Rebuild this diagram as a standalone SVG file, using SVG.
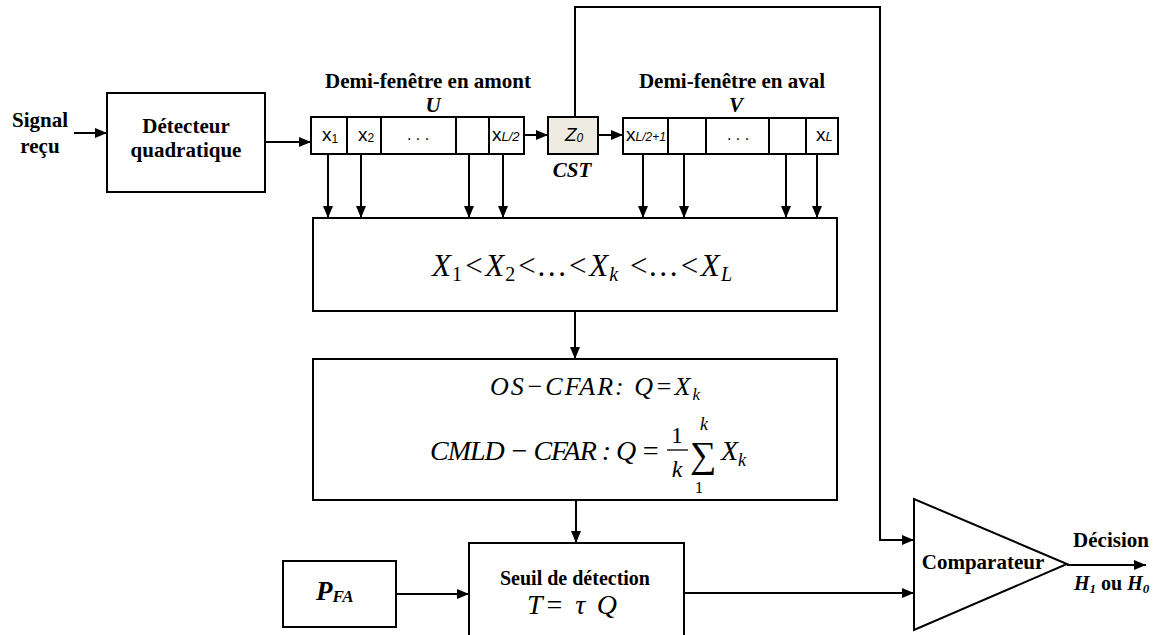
<svg xmlns="http://www.w3.org/2000/svg" width="1166" height="635" viewBox="0 0 1166 635">
<style>
.box{fill:#fff;stroke:#000;stroke-width:2}
.cell{fill:#fff;stroke:#000;stroke-width:2}
.ln{fill:none;stroke:#000;stroke-width:2}
.b{font-family:"Liberation Serif",serif;font-weight:bold;fill:#000}
.bi{font-family:"Liberation Serif",serif;font-weight:bold;font-style:italic;fill:#000}
.m{font-family:"Liberation Serif",serif;font-style:italic;fill:#000}
.r{font-family:"Liberation Serif",serif;fill:#000}
.s{font-family:"Liberation Sans",sans-serif;fill:#000}
</style>
<defs>
<marker id="ah" markerUnits="userSpaceOnUse" markerWidth="12" markerHeight="10" refX="12" refY="5" orient="auto">
<path d="M0,0 L12,5 L0,10 z" fill="#000"/>
</marker>
</defs>

<g id="connectors">
<path class="ln" d="M74,133 H107" marker-end="url(#ah)"/>
<path class="ln" d="M265,142 H311" marker-end="url(#ah)"/>
<path class="ln" d="M524,135 H548" marker-end="url(#ah)"/>
<path class="ln" d="M598,135 H623" marker-end="url(#ah)"/>
<path class="ln" d="M575,117 V7 H880 V540 H914" marker-end="url(#ah)"/>
<path class="ln" d="M328,154 V218" marker-end="url(#ah)"/>
<path class="ln" d="M361,154 V218" marker-end="url(#ah)"/>
<path class="ln" d="M469,154 V218" marker-end="url(#ah)"/>
<path class="ln" d="M503,154 V218" marker-end="url(#ah)"/>
<path class="ln" d="M643,154 V218" marker-end="url(#ah)"/>
<path class="ln" d="M684,154 V218" marker-end="url(#ah)"/>
<path class="ln" d="M786,154 V218" marker-end="url(#ah)"/>
<path class="ln" d="M817,154 V218" marker-end="url(#ah)"/>
<path class="ln" d="M575,311 V359" marker-end="url(#ah)"/>
<path class="ln" d="M576,500 V543" marker-end="url(#ah)"/>
<path class="ln" d="M396,594 H469" marker-end="url(#ah)"/>
<path class="ln" d="M684,593 H914" marker-end="url(#ah)"/>
<path class="ln" d="M1067,565 H1146" marker-end="url(#ah)"/>
</g>

<g id="signal">
<text class="b" x="40" y="127" font-size="21" text-anchor="middle">Signal</text>
<text class="b" x="40" y="153" font-size="21" text-anchor="middle">reçu</text>
</g>

<g id="detecteur">
<rect class="box" x="107" y="93" width="158" height="99"/>
<text class="b" x="186" y="133" font-size="21" text-anchor="middle">Détecteur</text>
<text class="b" x="186" y="157" font-size="21" text-anchor="middle">quadratique</text>
</g>

<g id="fenetre-amont">
<text class="b" x="428" y="88" font-size="21" text-anchor="middle">Demi-fenêtre en amont</text>
<text class="bi" x="433" y="112" font-size="21" text-anchor="middle">U</text>
<rect class="cell" x="311" y="117" width="213" height="37"/>
<path class="ln" d="M347,117 V154 M381,117 V154 M456,117 V154 M489,117 V154"/>
<text class="s" x="322" y="141" font-size="19">x<tspan font-size="12" dy="2">1</tspan></text>
<text class="s" x="358" y="141" font-size="19">x<tspan font-size="12" dy="1">2</tspan></text>
<text class="s" x="418" y="140" font-size="16" text-anchor="middle">. . .</text>
<text class="s" x="492" y="141" font-size="19">x<tspan font-size="13" font-style="italic">L/2</tspan></text>
</g>

<g id="cst">
<rect x="548" y="117" width="50" height="37" fill="#EEECE1" stroke="#000" stroke-width="2"/>
<text class="s" x="565" y="141" font-size="19" font-style="italic">Z<tspan font-size="12" dy="1">0</tspan></text>
<text class="bi" x="572" y="177" font-size="21" text-anchor="middle">CST</text>
</g>

<g id="fenetre-aval">
<text class="b" x="732" y="88" font-size="21" text-anchor="middle">Demi-fenêtre en aval</text>
<text class="bi" x="736" y="112" font-size="21" text-anchor="middle">V</text>
<rect class="cell" x="623" y="118" width="215" height="36"/>
<path class="ln" d="M668,118 V154 M706,118 V154 M769,118 V154 M806,118 V154"/>
<text class="s" x="626" y="141" font-size="19">x<tspan font-size="12" font-style="italic">L/2+1</tspan></text>
<text class="s" x="738" y="140" font-size="16" text-anchor="middle">. . .</text>
<text class="s" x="816" y="141" font-size="19">x<tspan font-size="13" font-style="italic">L</tspan></text>
</g>

<g id="tri">
<rect class="box" x="313" y="218" width="524" height="93"/>
<text class="m" x="432" y="276" font-size="31" textLength="300" lengthAdjust="spacing">X<tspan font-style="normal" font-size="20" dy="5">1</tspan><tspan dy="-5">&lt;X</tspan><tspan font-style="normal" font-size="20" dy="5">2</tspan><tspan dy="-5">&lt;…&lt;X</tspan><tspan font-size="20" dy="5">k</tspan><tspan dy="-5"> &lt;…&lt;X</tspan><tspan font-size="20" dy="5">L</tspan></text>
</g>

<g id="estimation">
<rect class="box" x="313" y="359" width="524" height="141"/>
<text class="m" x="490" y="395" font-size="26" textLength="210" lengthAdjust="spacing">OS−CFAR:  Q=X<tspan font-size="17" dy="5">k</tspan></text>
<text class="m" x="430" y="460" font-size="28" textLength="230" lengthAdjust="spacing">CMLD − CFAR :  Q =</text>
<text class="r" x="677" y="443" font-size="24" text-anchor="middle">1</text>
<path d="M667,450 H688" stroke="#000" stroke-width="1.3"/>
<text class="m" x="677" y="477" font-size="24" text-anchor="middle">k</text>
<text class="r" x="703" y="467" font-size="37" text-anchor="middle">∑</text>
<text class="m" x="704" y="430" font-size="18" text-anchor="middle">k</text>
<text class="r" x="699" y="493" font-size="17" text-anchor="middle">1</text>
<text class="m" x="721" y="460" font-size="28">X<tspan font-size="18" dy="6">k</tspan></text>
</g>

<g id="pfa">
<rect class="box" x="283" y="561" width="113" height="66"/>
<text class="bi" x="316" y="600" font-size="27">P<tspan font-size="17" dy="2">FA</tspan></text>
</g>

<g id="seuil">
<path class="box" d="M469,640 V543 H684 V640"/>
<text class="b" x="575" y="585" font-size="20" text-anchor="middle">Seuil de détection</text>
<text class="m" x="527" y="614" font-size="28" textLength="90" lengthAdjust="spacing">T= τ Q</text>
</g>

<g id="comparateur">
<path d="M914,499 L914,630 L1067,564 Z" fill="#fff" stroke="#000" stroke-width="2"/>
<text class="b" x="983" y="569" font-size="21" text-anchor="middle">Comparateur</text>
</g>

<g id="decision">
<text class="b" x="1111" y="547" font-size="21" text-anchor="middle">Décision</text>
<text class="bi" x="1074" y="590" font-size="20">H<tspan font-size="13" dy="3">1</tspan><tspan class="b" font-style="normal" dy="-3"> ou </tspan>H<tspan font-size="13" dy="3">0</tspan></text>
</g>
</svg>
